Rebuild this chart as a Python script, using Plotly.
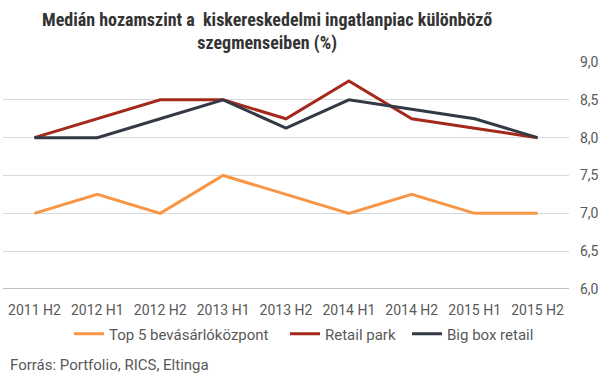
import plotly.graph_objects as go

categories = ["2011 H2", "2012 H1", "2012 H2", "2013 H1", "2013 H2", "2014 H1", "2014 H2", "2015 H1", "2015 H2"]
top5 = [7.0, 7.25, 7.0, 7.5, 7.25, 7.0, 7.25, 7.0, 7.0]
retail_park = [8.0, 8.25, 8.5, 8.5, 8.25, 8.75, 8.25, 8.125, 8.0]
big_box = [8.0, 8.0, 8.25, 8.5, 8.125, 8.5, 8.375, 8.25, 8.0]
y_ticks = [6.0, 6.5, 7.0, 7.5, 8.0, 8.5, 9.0]

W, H = 605, 379
L, R, T, B = 3, 36, 62, 90
pw, ph = W - L - R, H - T - B

font_main = "Roboto, sans-serif"
font_title = "Roboto Condensed, Liberation Sans Narrow, Roboto, sans-serif"
grey = "#595959"

series = [("Top 5 bevásárlóközpont", top5, "#F79646", "legend", 69),
          ("Retail park", retail_park, "#A5291B", "legend2", 285),
          ("Big box retail", big_box, "#343A45", "legend3", 407)]

fig = go.Figure()
for name, vals, col, lg, _ in series:
    fig.add_trace(go.Scatter(x=categories, y=vals, name=name, mode="lines",
                             line=dict(color=col, width=3), legend=lg))

legend_layout = {}
for name, vals, col, lg, px in series:
    legend_layout[lg] = dict(orientation="h", x=(px - L) / pw, xanchor="left",
                             y=(289 - 334) / ph, yanchor="middle",
                             font=dict(size=15, color=grey), bgcolor="rgba(0,0,0,0)")

fig.update_layout(
    width=W, height=H,
    margin=dict(l=L, r=R, t=T, b=B, autoexpand=False),
    paper_bgcolor="white", plot_bgcolor="white",
    separators=",.",
    font=dict(family=font_main, color=grey, size=14),
    xaxis=dict(type="category", range=[-0.5, 8.5], showgrid=False, showline=False, ticks="",
               tickfont=dict(size=14, color=grey), zeroline=False, automargin=False,
               ticklabelstandoff=11),
    yaxis=dict(side="right", range=[6.0, 9.0], tickvals=y_ticks, tickformat=".1f",
               showgrid=True, gridcolor="#D9D9D9", gridwidth=1, zeroline=False,
               showline=False, ticks="", tickfont=dict(size=14, color=grey), automargin=False,
               ticklabelstandoff=10),
    showlegend=True,
    **legend_layout,
)
fig.add_shape(type="line", xref="paper", yref="y", x0=0, x1=1, y0=6.0, y1=6.0,
              line=dict(color="#808080", width=1))
fig.add_annotation(text="<b>Medián hozamszint a  kiskereskedelmi ingatlanpiac különböző<br>szegmenseiben (%)</b>",
                   xref="paper", yref="paper", x=(267 - L) / pw, xanchor="center",
                   y=(289 - 7) / ph, yanchor="top", showarrow=False, align="center",
                   font=dict(family=font_title, size=18, color="#333333"))
fig.add_annotation(text="Forrás: Portfolio, RICS, Eltinga", xref="paper", yref="paper",
                   x=(8 - L) / pw, xanchor="left", y=(289 - 365) / ph, yanchor="middle",
                   showarrow=False, font=dict(size=15, color=grey))

fig.write_html("out.html", post_script="document.body.style.margin='0';",
               config={"displayModeBar": False})
